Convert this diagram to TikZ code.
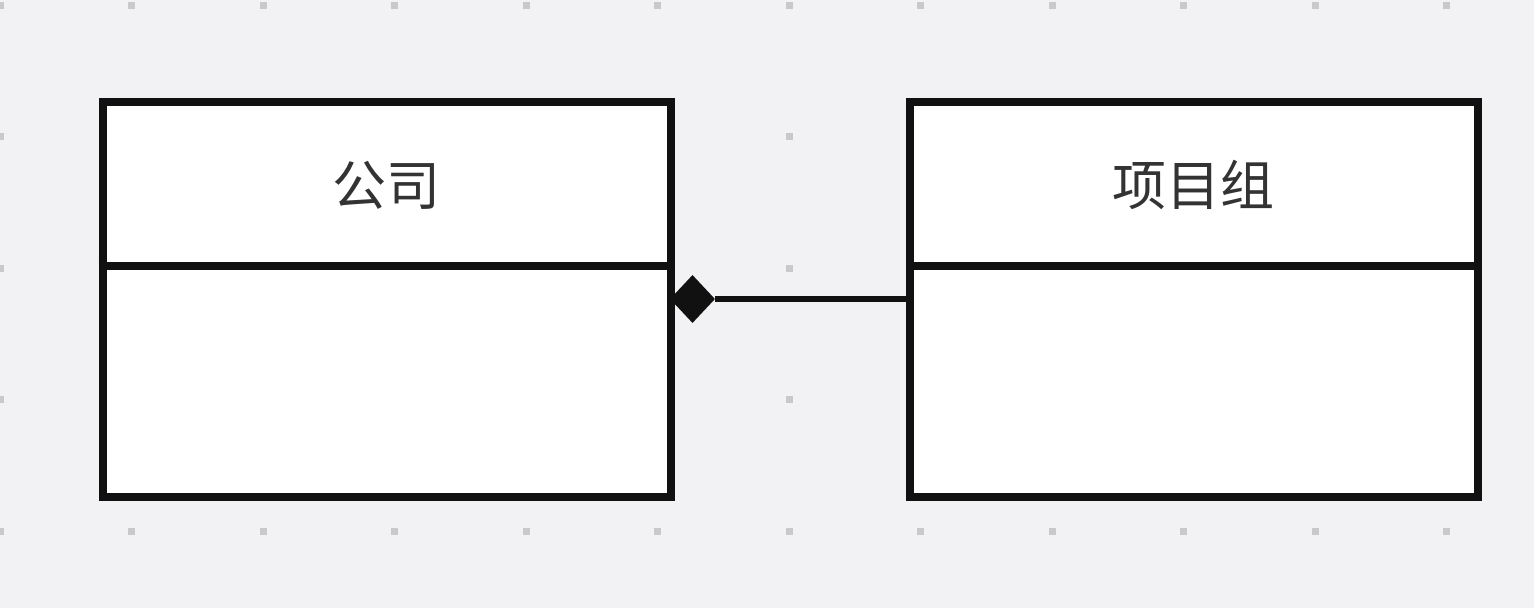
\documentclass[tikz,border=0pt]{standalone}
\usepackage{fontspec}
\newfontfamily\cjk{Noto Sans CJK SC}
\usetikzlibrary{shapes.geometric}
\definecolor{bgcol}{HTML}{F2F2F4}
\definecolor{dotcol}{HTML}{C9C9CC}
\definecolor{linecol}{HTML}{111111}
\definecolor{txtcol}{HTML}{333333}
\tikzset{
  classbox/.style={draw=linecol, fill=white, line width=8pt, rectangle, inner sep=0pt,
    minimum width=568pt, minimum height=395pt},
  divider/.style={draw=linecol, line width=8pt},
  title/.style={text=txtcol, font=\cjk\fontsize{54}{64}\selectfont, inner sep=0pt},
  comp/.style={diamond, fill=linecol, inner sep=0pt, minimum width=45pt, minimum height=48pt},
  conn/.style={draw=linecol, line width=6.5pt}
}
\begin{document}
\begin{tikzpicture}[x=1pt,y=-1pt]
\useasboundingbox (0,0) rectangle (1534,608);
\fill[bgcol] (0,0) rectangle (1534,608);
\foreach \i in {0,...,11} {
  \foreach \j in {0,...,4} {
    \fill[dotcol] ({131.5*\i-3.5},{5+131.5*\j-3.5}) rectangle ({131.5*\i+3.5},{5+131.5*\j+3.5});
  }
}
\node[classbox] (lbox) at (386.5,299.5) {};
\node[classbox] (rbox) at (1193.5,299.5) {};
\coordinate (ldiv) at (102,266);
\coordinate (rdiv) at (910,266);
\draw[divider] (lbox.west |- ldiv) -- (lbox.east |- ldiv);
\draw[divider] (rbox.west |- rdiv) -- (rbox.east |- rdiv);
\node[title] (ltitle) at (386.5,185) {公司};
\node[title] (rtitle) at (1193.5,185) {项目组};
\node[comp] (dia) at (692.5,299) {};
\draw[conn] (dia.east) -- (rbox.west |- dia);
\end{tikzpicture}
\end{document}
